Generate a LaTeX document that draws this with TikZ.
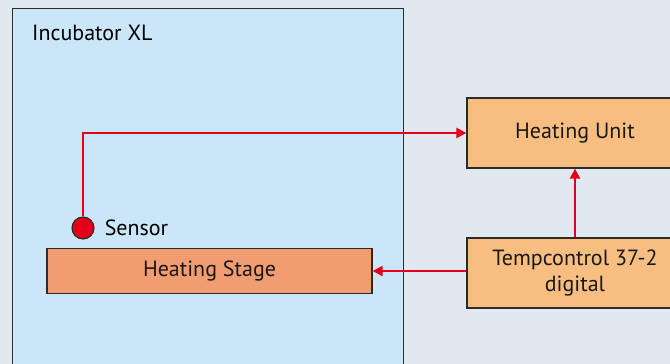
\documentclass[tikz,border=0pt]{standalone}
\usepackage{fontspec}
\setmainfont{PT Sans}
\usepackage{tikz}
\usetikzlibrary{arrows.meta, positioning}

\definecolor{bggrey}{HTML}{E1E8EF}
\definecolor{incblue}{HTML}{CBE6F8}
\definecolor{unitorange}{HTML}{F7BD81}
\definecolor{stageorange}{HTML}{F29C72}
\definecolor{sigred}{HTML}{E2001A}
\definecolor{edgegrey}{HTML}{2B2B2B}

\tikzset{
  box/.style={draw=edgegrey, line width=1.3pt, inner sep=0pt, align=center, text=black!90},
  redline/.style={draw=sigred, line width=2.3pt, -{Triangle[length=10pt, width=10pt]}},
}

\begin{document}
\begin{tikzpicture}[x=1pt, y=-1pt, font=\fontsize{22}{26}\selectfont]
          \clip (0,0) rectangle (670,364);
          \fill[bggrey] (0,0) rectangle (670,364);
          % incubator housing
          \node[box, fill=incblue, anchor=north west, minimum width=391pt, minimum height=380pt] (incubator) at (12,8) {};
          \node[anchor=base west, inner sep=0pt] (inctitle) at (32,40) {Incubator XL};
          % boxes
          \node[box, fill=stageorange, minimum width=325pt, minimum height=45pt] (stage) at (209.5,271) {Heating Stage};
          \node[box, fill=unitorange, minimum width=216pt, minimum height=70pt] (unit) at (575,133) {Heating Unit};
          \node[box, fill=unitorange, minimum width=216pt, minimum height=70pt] (temp) at (575,273) {Tempcontrol 37-2\\digital};
          % sensor
          \node[circle, draw=edgegrey, line width=1.1pt, fill=sigred, minimum size=22pt, inner sep=0pt] (sensor) at (83,228) {};
          \node[inner sep=0pt, right=10pt of sensor] (sensorlabel) {Sensor};
          % signal lines
          \draw[redline] (sensor.north) |- (unit.west);
          \draw[redline] (temp.north) -- (unit.south);
          \draw[redline] (temp.west |- stage.east) -- (stage.east);
        \end{tikzpicture}
\end{document}
